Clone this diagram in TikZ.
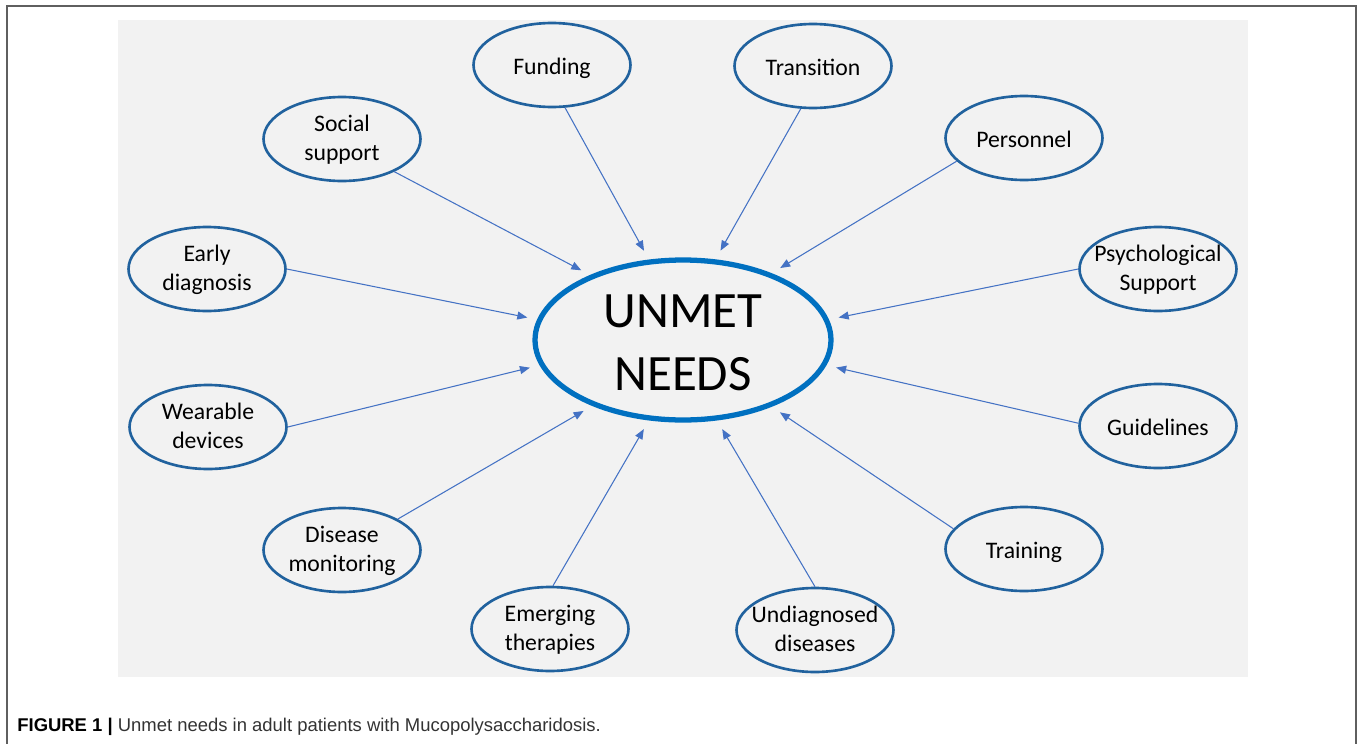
\documentclass[tikz,border=0pt]{standalone}
\usepackage{fontspec}
\setmainfont{Carlito}
\newfontfamily\capfont{Liberation Sans}
\usetikzlibrary{arrows.meta, shapes.geometric}

\definecolor{ringblue}{RGB}{33,98,158}
\definecolor{hubblue}{RGB}{0,112,192}
\definecolor{linkblue}{RGB}{68,114,196}
\definecolor{panelgray}{RGB}{242,242,242}
\definecolor{framegray}{RGB}{95,95,95}

\tikzstyle{need} = [ellipse, draw = ringblue, line width = 1.5pt, minimum width = 3.14cm,
  minimum height = 1.68cm, inner sep = 0pt]
\tikzstyle{needtext} = [align = center, yshift = -0.07cm,
  execute at begin node = \strut, execute at end node = \strut,
  font = \fontsize{13.5}{16.5}\selectfont]
\tikzstyle{hub} = [ellipse, draw = hubblue, line width = 3pt, minimum width = 5.92cm,
  minimum height = 3.2cm, inner sep = 0pt]
\tikzstyle{hubtext} = [align = center, yshift = -0.06cm,
  font = \fontsize{29}{36}\selectfont]
\tikzstyle{needarrow} = [-{Triangle[length = 0.2cm, width = 0.16cm]}, draw = linkblue,
  line width = 0.6pt, shorten >= 0.2cm]

\begin{document}
\begin{tikzpicture}[x = 0.02cm, y = -0.02cm]
  \useasboundingbox (0, 0) rectangle (1357, 744);
  % frame and panel
  \draw[framegray, line width = 0.8pt] (7, 750) -- (7, 6) -- (1356, 6) -- (1356, 750);
  \fill[panelgray] (118, 20) rectangle (1248, 677);

  \node[hub, label = {[hubtext]center:UNMET\\NEEDS}] (unmet) at (683, 340) {};
  \foreach \n/\x/\y/\t in {funding/552/65/{Funding}, transition/813/66/{Transition},
      personnel/1024/138/{Personnel}, psych/1158/269/{Psychological\\Support},
      guidelines/1158/426/{Guidelines}, training/1024/549/{Training},
      undiag/815/630/{Undiagnosed\\diseases}, emerging/550/629/{Emerging\\therapies},
      monitor/342/550/{Disease\\monitoring}, wearable/208/427/{Wearable\\devices},
      early/207/269/{Early\\diagnosis}, social/342/139/{Social\\support}} {
    \node[need, label = {[needtext]center:\t}] (\n) at (\x, \y) {};
  }
  \foreach \n/\a/\b in {funding/-73/113, transition/-106/68, personnel/-161/37,
      psych/180/8, guidelines/178/-10, training/164/-37, undiag/90/-67,
      emerging/86/-113, monitor/29/-144, wearable/0/-170, early/0/172, social/-32/145} {
    \draw[needarrow] (\n.\a) -- (unmet.\b);
  }

  \node[anchor = base west, inner sep = 0pt, text = black!80,
    font = \capfont\fontsize{10.5}{12}\selectfont]
    (caption) at (17, 731.5) {\textbf{\color{black}FIGURE 1 |} Unmet needs in adult patients with Mucopolysaccharidosis.};
\end{tikzpicture}
\end{document}
